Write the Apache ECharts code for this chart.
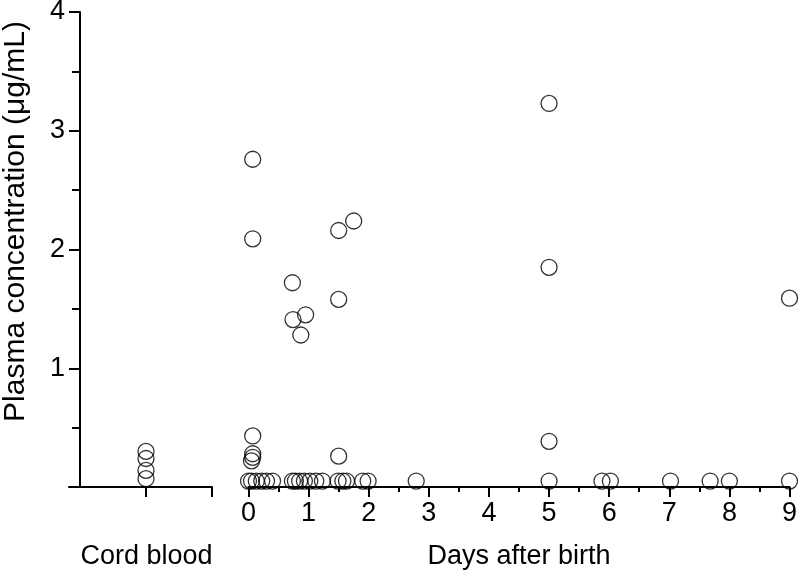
<!DOCTYPE html>
<html>
<head>
<meta charset="utf-8">
<script src="https://cdn.jsdelivr.net/npm/echarts@6/dist/echarts.min.js"></script>
<style>
  html, body { margin: 0; padding: 0; background: #fff; }
  #main { width: 800px; height: 582px; }
</style>
</head>
<body>
<div id="main"></div>
<script>
// cord blood samples (all drawn at the single "Cord blood" position)
var cordBloodValues = [0.30, 0.24, 0.14, 0.07];

// samples by days after birth
var dayTimes = [
  0.07, 0.07, 0.07, 0.07, 0.07, 0.05,
  0.0, 0.05, 0.13, 0.22, 0.30, 0.40,
  0.73, 0.74, 0.87, 0.95,
  0.73, 0.78, 0.85, 0.93, 1.02, 1.12, 1.23,
  1.50, 1.50, 1.50, 1.75,
  1.49, 1.57, 1.63, 1.90, 1.99,
  2.79, 5.0, 5.0, 5.0, 5.0, 5.88, 6.02, 7.02, 7.68, 8.0, 9.0, 9.0
];
var dayValues = [
  2.76, 2.09, 0.43, 0.28, 0.25, 0.22,
  0.05, 0.05, 0.05, 0.05, 0.05, 0.05,
  1.72, 1.41, 1.28, 1.45,
  0.05, 0.05, 0.05, 0.05, 0.05, 0.05, 0.05,
  2.16, 1.58, 0.26, 2.24,
  0.05, 0.05, 0.05, 0.05, 0.05,
  0.05, 3.23, 1.85, 0.385, 0.05, 0.05, 0.05, 0.05, 0.05, 0.05, 1.59, 0.05
];

var yTicks = [0, 1, 2, 3, 4];
var dayTicks = [0, 1, 2, 3, 4, 5, 6, 7, 8, 9];

// the cord blood panel uses a plain index scale: -1 .. 12, samples at 6
var cordPos = 6;
var cordRange = [-1, 12];

var font = 'Liberation Sans, Arial, sans-serif';
var black = '#000';

var myChart = echarts.init(document.getElementById('main'));

var circle = {
  symbol: 'circle',
  symbolSize: 16,
  itemStyle: { color: 'rgba(0,0,0,0)', borderColor: black, borderWidth: 1.3 }
};

var option = {
  animation: false,
  backgroundColor: '#fff',
  grid: [
    { left: 69, top: 12, width: 143, bottom: 95, outerBoundsMode: 'none' },
    { left: 248.5, top: 12, right: 10.5, bottom: 95, outerBoundsMode: 'none' }
  ],
  xAxis: [{
    gridIndex: 0,
    type: 'value',
    min: cordRange[0],
    max: cordRange[1],
    interval: 1,
    name: 'Cord blood',
    nameLocation: 'middle',
    nameGap: 56,
    nameTextStyle: { fontFamily: font, fontSize: 27, color: black, padding: [0, 0, 0, 12] },
    axisLine: { lineStyle: { color: black, width: 2 } },
    axisTick: { length: 10, customValues: [cordPos, cordRange[1]], lineStyle: { color: black, width: 2 } },
    axisLabel: { show: false },
    splitLine: { show: false }
  }, {
    gridIndex: 1,
    type: 'value',
    min: dayTicks[0],
    max: dayTicks[dayTicks.length - 1],
    interval: 1,
    name: 'Days after birth',
    nameLocation: 'middle',
    nameGap: 56,
    nameTextStyle: { fontFamily: font, fontSize: 27, color: black },
    axisLine: { lineStyle: { color: black, width: 2 } },
    axisTick: { length: 10, lineStyle: { color: black, width: 2 } },
    minorTick: { show: true, splitNumber: 2, length: 5, lineStyle: { color: black, width: 2 } },
    axisLabel: { fontFamily: font, fontSize: 27, color: black, margin: 13 },
    splitLine: { show: false }
  }],
  yAxis: [{
    gridIndex: 0,
    type: 'value',
    min: yTicks[0],
    max: yTicks[yTicks.length - 1],
    interval: 1,
    name: 'Plasma concentration (\u03bcg/mL)',
    nameLocation: 'middle',
    nameGap: 38,
    nameTextStyle: { fontFamily: font, fontSize: 30, color: black, padding: [0, 0, 0, 56] },
    axisLine: { onZero: true, lineStyle: { color: black, width: 2 } },
    axisTick: { length: 11, lineStyle: { color: black, width: 2 } },
    minorTick: { show: true, splitNumber: 2, length: 8, lineStyle: { color: black, width: 2 } },
    axisLabel: { fontFamily: font, fontSize: 27, color: black, margin: 4, showMinLabel: false },
    splitLine: { show: false }
  }, {
    gridIndex: 1,
    type: 'value',
    min: yTicks[0],
    max: yTicks[yTicks.length - 1],
    show: false
  }],
  series: [
    Object.assign({
      name: 'Cord blood',
      type: 'scatter',
      xAxisIndex: 0,
      yAxisIndex: 0,
      data: cordBloodValues.map(function (v) { return [cordPos, v]; })
    }, circle),
    Object.assign({
      name: 'Days after birth',
      type: 'scatter',
      xAxisIndex: 1,
      yAxisIndex: 1,
      data: dayTimes.map(function (d, i) { return [d, dayValues[i]]; })
    }, circle)
  ]
};

myChart.setOption(option);
</script>
</body>
</html>
